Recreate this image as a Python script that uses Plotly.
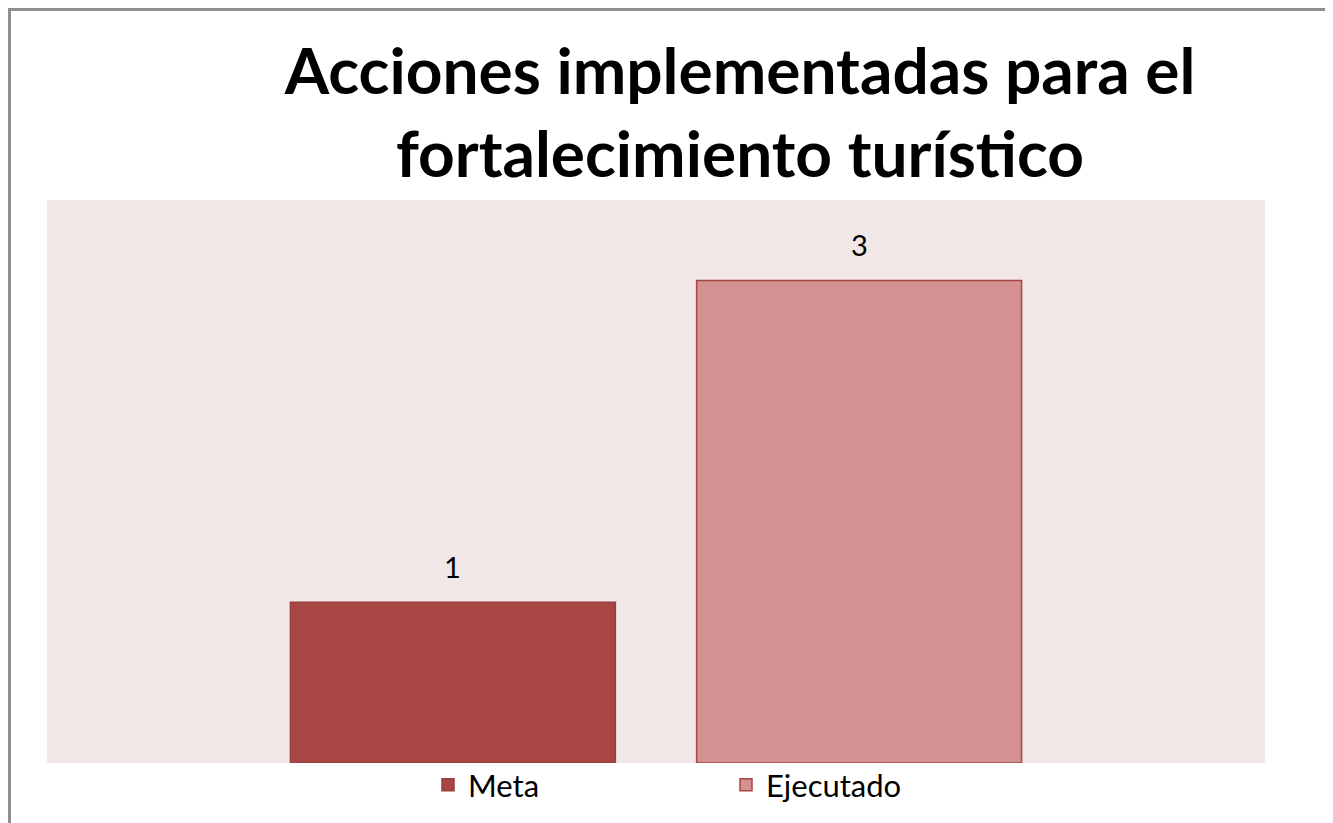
import plotly.graph_objects as go

categories = ["Acciones"]
series_names = ["Meta", "Ejecutado"]
series_values = [[1], [3]]
fill_colors = ["#A84644", "#D39192"]
line_colors = ["#9A3D3C", "#A84644"]

# page has an 8px body margin; figure is sized/positioned to compensate
OFF = 8
W, H = 1333 - OFF, 823 - OFF
ml, mr, mt, mb = 47 - OFF, W - (1265 - OFF), 200 - OFF, H - (763 - OFF)
pw, ph = W - ml - mr, H - mt - mb


def fx(page_x):
    return (page_x - OFF - ml) / pw


def fy(page_y):
    return (H - mb - (page_y - OFF)) / ph


fig = go.Figure()
for name, vals, fc, lc in zip(series_names, series_values, fill_colors, line_colors):
    fig.add_trace(go.Bar(
        name=name, x=categories, y=vals,
        marker=dict(color=fc, line=dict(color=lc, width=1.5)),
        hoverinfo="skip",
    ))

# value labels
bargap = 0.333
slot = pw * (1 - bargap) / 2
for i, vals in enumerate(series_values):
    for c, v in zip(categories, vals):
        fig.add_annotation(
            x=c, y=v, xref="x", yref="y", text=str(v), showarrow=False,
            xshift=(i - 0.5) * slot, yanchor="bottom", yshift=16,
            font=dict(family="Lato", size=29, color="#000000"),
        )

# outer border (only top and left edges visible in the frame)
border = dict(color="#8E8E8E", width=3)
fig.add_shape(type="line", xref="paper", yref="paper",
              x0=fx(8), x1=fx(1333), y0=fy(9.5), y1=fy(9.5), line=border)
fig.add_shape(type="line", xref="paper", yref="paper",
              x0=fx(9.5), x1=fx(9.5), y0=fy(8), y1=fy(823), line=border)

fig.update_layout(
    width=W, height=H,
    margin=dict(l=ml, r=mr, t=mt, b=mb, autoexpand=False),
    paper_bgcolor="white",
    plot_bgcolor="#F2E7E7",
    barmode="group", bargap=bargap, bargroupgap=0.2,
    title=dict(
        text="Acciones implementadas para el<br>fortalecimiento turístico",
        x=(740 - OFF) / W, xanchor="center", xref="container",
        y=1 - 86 / H, yanchor="top", yref="container",
        font=dict(family="Lato", size=64, color="#000000", weight="bold"),
    ),
    xaxis=dict(visible=False, range=[-0.5, 0.5]),
    yaxis=dict(visible=False, range=[0, 3.5]),
    showlegend=True,
    legend=dict(
        orientation="h", x=fx(428), xanchor="left",
        y=fy(758), yanchor="top",
        entrywidth=253, entrywidthmode="pixels",
        font=dict(family="Lato", size=31, color="#000000"),
        bgcolor="rgba(0,0,0,0)", traceorder="normal",
    ),
)

fig.write_html("out.html")
